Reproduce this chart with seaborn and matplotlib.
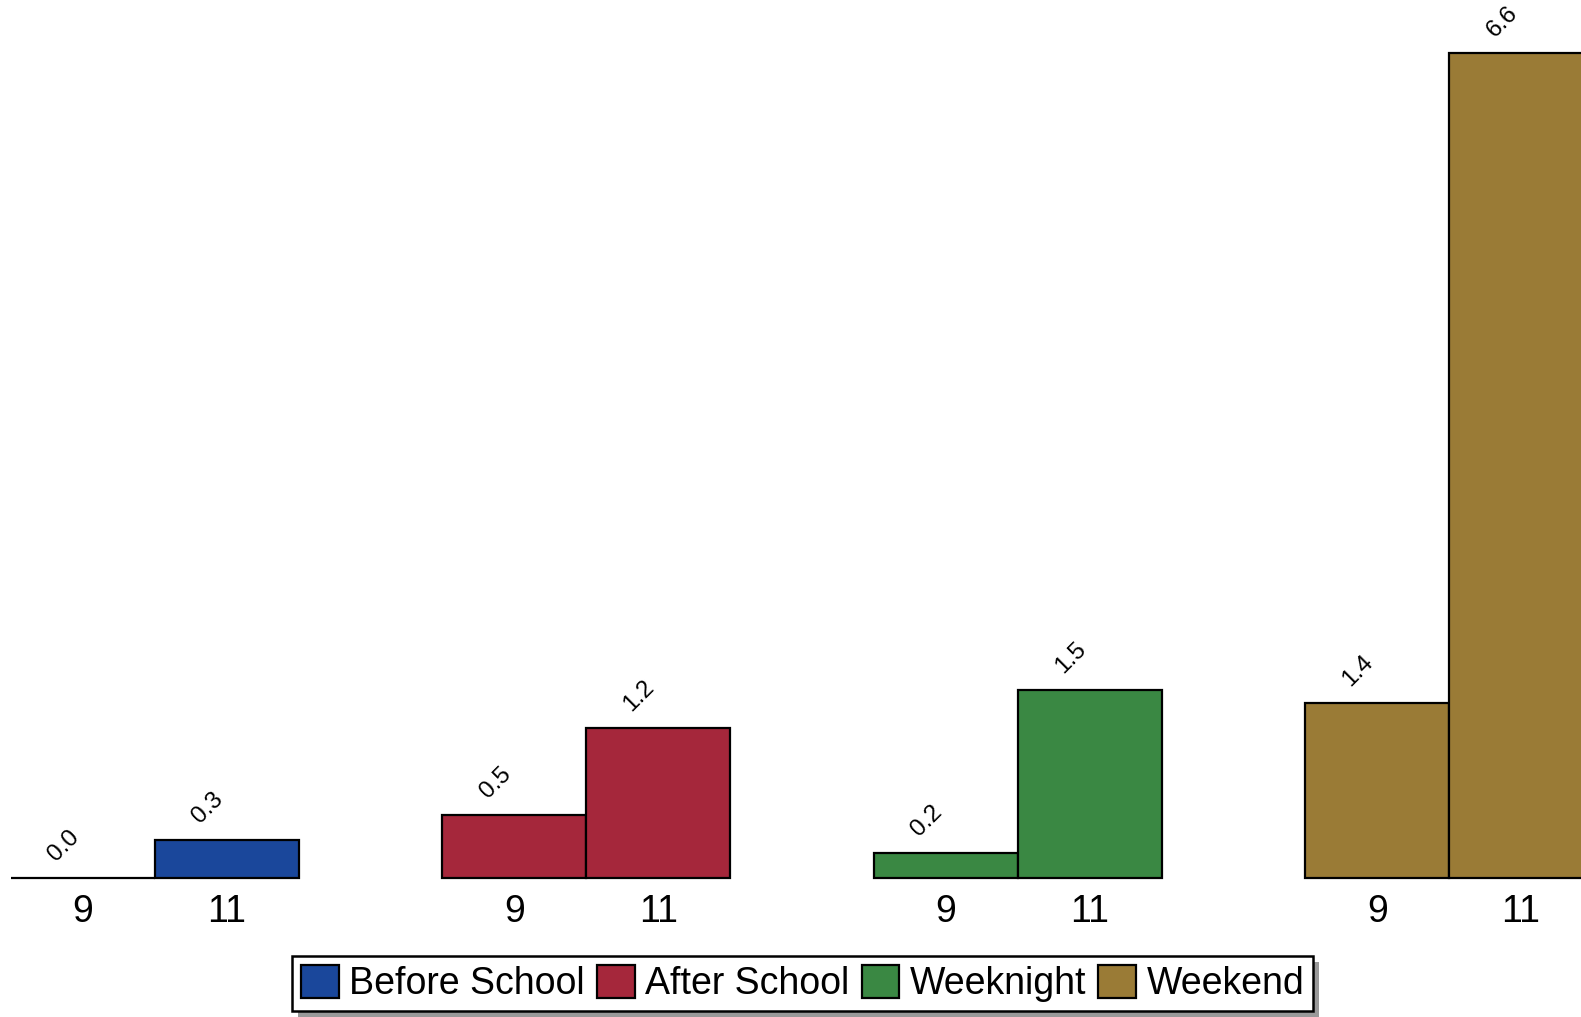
import matplotlib
matplotlib.use("Agg")
import matplotlib.pyplot as plt
from matplotlib.patches import Patch
import seaborn as sns
import pandas as pd

# ---- data ----
periods = ["Before School", "After School", "Weeknight", "Weekend"]
grades = ["9", "11"]
before_school = [0.0, 0.3]
after_school = [0.5, 1.2]
weeknight = [0.2, 1.5]
weekend = [1.4, 6.6]
colors = ["#1A479B", "#A5273B", "#3A8843", "#9A7B36"]

series = [before_school, after_school, weeknight, weekend]
rows = []
for p, vals in zip(periods, series):
    for g, v in zip(grades, vals):
        rows.append({"slot": f"{p} {g}", "period": p, "grade": g, "value": v})
df = pd.DataFrame(rows)

order = []
tick_labels = []
for i, p in enumerate(periods):
    for g in grades:
        order.append(f"{p} {g}")
        tick_labels.append(g)
    if i < len(periods) - 1:
        order.append(f"gap{i}")
        tick_labels.append("")

sns.set_theme(style="white")
plt.rcParams["font.family"] = ["Liberation Sans", "DejaVu Sans"]

fig = plt.figure(figsize=(15.81, 10.17), dpi=100)
ax = fig.add_axes([0.0, 0.137, 1.0, 0.863])

sns.barplot(data=df, x="slot", y="value", hue="period", order=order,
            hue_order=periods, palette=colors, dodge=False, width=1.0,
            edgecolor="black", linewidth=1.6, saturation=1, ax=ax,
            errorbar=None, legend=False)

for p in ax.patches:
    p.set_clip_on(False)

for cont in ax.containers:
    for bar in cont:
        h = bar.get_height()
        if pd.isna(h):
            continue
        xc = bar.get_x() + bar.get_width() / 2
        ax.annotate(f"{h:.1f}", (xc, h), xytext=(-19, 32),
                    textcoords="offset pixels", rotation=45,
                    ha="center", va="center", fontsize=17.5, color="black",
                    annotation_clip=False)

ax.set_xlim(-0.577, 10.417)
ax.set_ylim(0, 7.027)
ax.set_xticks(range(len(order)))
ax.set_xticklabels(tick_labels)
ax.tick_params(axis="x", length=0, pad=12, labelsize=27, colors="black")
ax.set_yticks([])
ax.set_xlabel("")
ax.set_ylabel("")
for s in ax.spines.values():
    s.set_visible(False)
ax.set_facecolor("white")

handles = [Patch(facecolor=c, edgecolor="black", linewidth=1.6) for c in colors]
leg = fig.legend(handles, periods, loc="center", bbox_to_anchor=(0.5076, 0.033),
                 ncol=4, fontsize=27, frameon=True, fancybox=False,
                 handlelength=1.01, handleheight=1.01, handletextpad=0.27,
                 columnspacing=0.33, borderpad=0.24, borderaxespad=0,
                 labelcolor="black",
                 shadow={"ox": 4.5, "oy": -4.5, "facecolor": "#999999",
                         "edgecolor": "none", "alpha": 1})
leg.get_frame().set_edgecolor("black")
leg.get_frame().set_linewidth(1.8)
leg.get_frame().set_facecolor("white")
leg.get_frame().set_alpha(1)

fig.savefig("out.png", dpi=100, facecolor="white")
